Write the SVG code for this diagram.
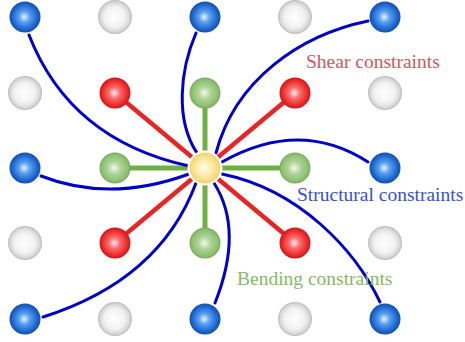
<svg xmlns="http://www.w3.org/2000/svg" width="465" height="342" viewBox="0 0 465 342">
<defs>
<radialGradient id="gBlue" cx="0.5" cy="0.5" r="0.5" fx="0.47" fy="0.5">
<stop offset="0" stop-color="#e8f4ff"/>
<stop offset="0.35" stop-color="#5aa0f0"/>
<stop offset="0.8" stop-color="#1d66d0"/>
<stop offset="1" stop-color="#1450a8"/>
</radialGradient>
<radialGradient id="gRed" cx="0.5" cy="0.5" r="0.5" fx="0.47" fy="0.5">
<stop offset="0" stop-color="#fff0f0"/>
<stop offset="0.35" stop-color="#f87070"/>
<stop offset="0.8" stop-color="#ee2a2a"/>
<stop offset="1" stop-color="#c81818"/>
</radialGradient>
<radialGradient id="gGreen" cx="0.5" cy="0.5" r="0.5" fx="0.47" fy="0.5">
<stop offset="0" stop-color="#f4faee"/>
<stop offset="0.4" stop-color="#b0d498"/>
<stop offset="0.85" stop-color="#8cc070"/>
<stop offset="1" stop-color="#78aa5c"/>
</radialGradient>
<radialGradient id="gGray" cx="0.5" cy="0.5" r="0.5" fx="0.47" fy="0.5">
<stop offset="0" stop-color="#ffffff"/>
<stop offset="0.6" stop-color="#f2f2f2"/>
<stop offset="0.88" stop-color="#d6d6d6"/>
<stop offset="1" stop-color="#b8b8b8"/>
</radialGradient>
<radialGradient id="gYellow" cx="0.5" cy="0.5" r="0.5" fx="0.47" fy="0.5">
<stop offset="0" stop-color="#fffcf0"/>
<stop offset="0.45" stop-color="#fbeeaa"/>
<stop offset="1" stop-color="#f0d068"/>
</radialGradient>
</defs>
<style>
.blue{fill:url(#gBlue)}
.red{fill:url(#gRed)}
.green{fill:url(#gGreen)}
.gray{fill:url(#gGray)}
.center{fill:url(#gYellow);stroke:#ffffff;stroke-width:2}
.shear{stroke:#e82424;stroke-width:4.5;fill:none}
.bend{stroke:#6fb043;stroke-width:5;fill:none}
.struct{stroke:#0000c8;stroke-width:3;fill:none;stroke-linecap:round}
text{font-family:"Liberation Serif","Times New Roman",serif;font-size:19.5px}
</style>
<g id="connectors">
<line class="shear" x1="115" y1="93" x2="205" y2="168"/>
<line class="shear" x1="295" y1="93" x2="205" y2="168"/>
<line class="shear" x1="115" y1="243" x2="205" y2="168"/>
<line class="shear" x1="295" y1="243" x2="205" y2="168"/>
<line class="bend" x1="115" y1="168" x2="295" y2="168"/>
<line class="bend" x1="205" y1="93" x2="205" y2="243"/>
<path class="struct" d="M29,35 Q70,140 189,166"/>
<path class="struct" d="M41,176 Q110,203 189,174"/>
<path class="struct" d="M43,317 Q160,280 196,183"/>
<path class="struct" d="M215,303 Q244,230 214,183"/>
<path class="struct" d="M380,302 C355,250 300,190 222,174"/>
<path class="struct" d="M368,162 Q300,118 222,162"/>
<path class="struct" d="M368,21 C300,35 235,80 216,153"/>
<path class="struct" d="M196,33 C180,70 175,120 197,153"/>
</g>
<g id="n00"><circle class="blue" cx="25" cy="17" r="15.5"/></g>
<g id="n01"><circle class="gray" cx="115" cy="17" r="17"/></g>
<g id="n02"><circle class="blue" cx="205" cy="17" r="15.5"/></g>
<g id="n03"><circle class="gray" cx="295" cy="17" r="17"/></g>
<g id="n04"><circle class="blue" cx="385" cy="17" r="15.5"/></g>
<g id="n10"><circle class="gray" cx="25" cy="93" r="17"/></g>
<g id="n11"><circle class="red" cx="115" cy="93" r="15.5"/></g>
<g id="n12"><circle class="green" cx="205" cy="93" r="15.5"/></g>
<g id="n13"><circle class="red" cx="295" cy="93" r="15.5"/></g>
<g id="n14"><circle class="gray" cx="385" cy="93" r="17"/></g>
<g id="n20"><circle class="blue" cx="25" cy="168" r="15.5"/></g>
<g id="n21"><circle class="green" cx="115" cy="168" r="15.5"/></g>
<g id="n22"><circle class="center" cx="205" cy="168" r="16.5"/></g>
<g id="n23"><circle class="green" cx="295" cy="168" r="15.5"/></g>
<g id="n24"><circle class="blue" cx="385" cy="168" r="15.5"/></g>
<g id="n30"><circle class="gray" cx="25" cy="243" r="17"/></g>
<g id="n31"><circle class="red" cx="115" cy="243" r="15.5"/></g>
<g id="n32"><circle class="green" cx="205" cy="243" r="15.5"/></g>
<g id="n33"><circle class="red" cx="295" cy="243" r="15.5"/></g>
<g id="n34"><circle class="gray" cx="385" cy="243" r="17"/></g>
<g id="n40"><circle class="blue" cx="25" cy="319" r="15.5"/></g>
<g id="n41"><circle class="gray" cx="115" cy="319" r="17"/></g>
<g id="n42"><circle class="blue" cx="205" cy="319" r="15.5"/></g>
<g id="n43"><circle class="gray" cx="295" cy="319" r="17"/></g>
<g id="n44"><circle class="blue" cx="385" cy="319" r="15.5"/></g>
<g id="labels">
<text x="306" y="68" fill="#e0505c">Shear constraints</text>
<text x="297" y="201" fill="#3a52c4">Structural constraints</text>
<text x="237" y="285" fill="#86b868">Bending constraints</text>
</g>
</svg>
